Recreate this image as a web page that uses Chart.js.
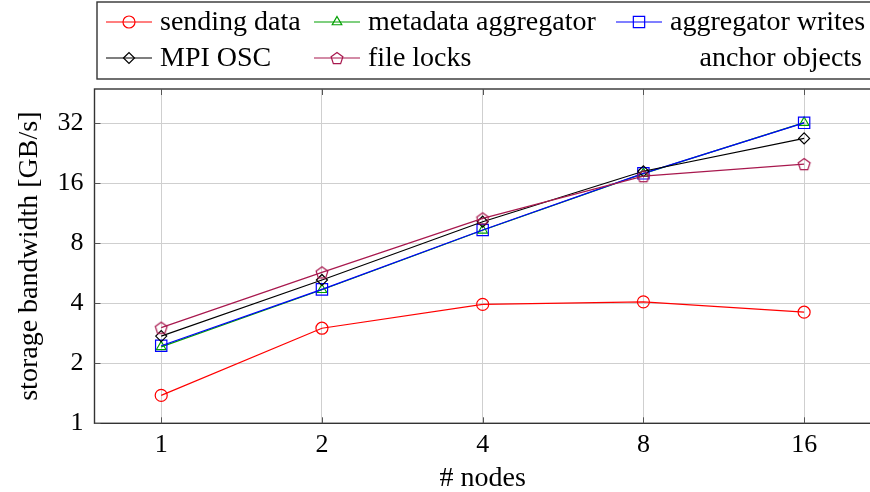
<!DOCTYPE html>
<html>
<head>
<meta charset="utf-8">
<script src="https://cdn.jsdelivr.net/npm/chart.js@4.4.1/dist/chart.umd.min.js"></script>
<style>
  html, body { margin: 0; padding: 0; background: #fff; overflow: hidden; }
  #wrap { width: 880px; height: 492px; }
  .probe { font-family: "Liberation Serif"; position: absolute; left: -999px; }
</style>
</head>
<body>
<span class="probe">probe 123</span>
<div id="wrap"><canvas id="myChart"></canvas></div>
<script>
const nodes = [1, 2, 4, 8, 16]
const xTicks = [1, 2, 4, 8, 16]
const yTicks = [1, 2, 4, 8, 16, 32]

const sendingData = [1.38, 3.0, 3.95, 4.07, 3.61]
const metadataAggregator = [2.42, 4.68, 9.3, 17.9, 32.3]
const aggregatorWrites = [2.45, 4.7, 9.33, 17.96, 32.2]
const mpiOsc = [2.74, 5.24, 10.27, 18.4, 26.9]
const fileLocks = [3.02, 5.72, 10.68, 17.4, 20.0]
const anchorObjects = []

const FONT = '"Liberation Serif", "Times New Roman", serif'
const PURPLE = '#a8184e'

function pentagon (color) {
  const c = document.createElement('canvas')
  c.width = 16
  c.height = 16
  const g = c.getContext('2d')
  g.strokeStyle = color
  g.lineWidth = 1.2
  g.beginPath()
  for (let k = 0; k < 5; k++) {
    const a = -Math.PI / 2 + k * 2 * Math.PI / 5
    const px = 8 + 6.2 * Math.cos(a)
    const py = 8.6 + 6.2 * Math.sin(a)
    if (k) g.lineTo(px, py)
    else g.moveTo(px, py)
  }
  g.closePath()
  g.stroke()
  return c
}

const pts = arr => nodes.map((n, i) => ({ x: n, y: arr[i] }))

const series = [
  { label: 'sending data', data: sendingData, color: '#ff0000', style: 'circle', r: 6 },
  { label: 'metadata aggregator', data: metadataAggregator, color: '#00a000', style: 'triangle', r: 5.5 },
  { label: 'aggregator writes', data: aggregatorWrites, color: '#0000ff', style: 'rect', r: 8 },
  { label: 'MPI OSC', data: mpiOsc, color: '#000000', style: 'rectRot', r: 5.5 },
  { label: 'file locks', data: fileLocks, color: PURPLE, style: pentagon(PURPLE), r: 6 },
  { label: 'anchor objects', data: anchorObjects, color: 'rgba(0,0,0,0)', style: false, r: 0 }
]

// legend slots: [line start x, row center y, text align]
const legendSlots = [
  [106, 22, 'left'], [314, 22, 'left'], [616, 22, 'left'],
  [106, 58, 'left'], [314, 58, 'left'], [862, 58, 'right']
]

const framePlugin = {
  id: 'frame',
  afterDatasetsDraw (chart) {
    const { ctx, chartArea: a } = chart
    ctx.save()
    ctx.strokeStyle = '#333'
    ctx.lineWidth = 1.4
    ctx.strokeRect(a.left, a.top, a.right - a.left, a.bottom - a.top)
    // inner tick marks
    ctx.strokeStyle = '#555'
    ctx.lineWidth = 1
    const ys = chart.scales.y
    const xs = chart.scales.x
    yTicks.forEach(v => {
      const py = Math.round(ys.getPixelForValue(v)) + 0.5
      ctx.beginPath(); ctx.moveTo(a.left, py); ctx.lineTo(a.left + 6, py); ctx.stroke()
    })
    xTicks.forEach(v => {
      const px = Math.round(xs.getPixelForValue(v)) + 0.5
      ctx.beginPath(); ctx.moveTo(px, a.bottom); ctx.lineTo(px, a.bottom - 6); ctx.stroke()
      ctx.beginPath(); ctx.moveTo(px, a.top); ctx.lineTo(px, a.top + 6); ctx.stroke()
    })
    ctx.restore()
  }
}

const legendPlugin = {
  id: 'boxLegend',
  afterDraw (chart) {
    const { ctx } = chart
    ctx.save()
    ctx.strokeStyle = '#333'
    ctx.lineWidth = 1.4
    ctx.strokeRect(97, 2, 790, 77)
    ctx.font = '28px ' + FONT
    ctx.textBaseline = 'middle'
    series.forEach((s, i) => {
      const [x0, y, align] = legendSlots[i]
      if (s.style) {
        ctx.strokeStyle = s.color
        ctx.lineWidth = 1.2
        ctx.beginPath(); ctx.moveTo(x0, y); ctx.lineTo(x0 + 46, y); ctx.stroke()
        ctx.fillStyle = 'rgba(0,0,0,0)'
        Chart.helpers.drawPoint(ctx, { pointStyle: s.style, radius: s.r, borderWidth: 1.2, rotation: 0 }, x0 + 23, y)
      }
      ctx.fillStyle = '#000'
      ctx.textAlign = align
      ctx.fillText(s.label, align === 'left' ? x0 + 54 : x0, y + 1)
    })
    ctx.restore()
  }
}

function build () {
  const ctx = document.getElementById('myChart').getContext('2d')
  new Chart(ctx, {
    type: 'line',
    data: {
      datasets: series.map((s, i) => ({
        label: s.label,
        data: pts(s.data),
        order: series.length - i,
        borderColor: s.color,
        backgroundColor: 'rgba(0,0,0,0)',
        borderWidth: 1.2,
        pointStyle: s.style,
        pointRadius: s.r,
        pointHoverRadius: s.r,
        pointBorderWidth: 1.2,
        pointBorderColor: s.color,
        pointBackgroundColor: 'rgba(0,0,0,0)',
        tension: 0
      }))
    },
    options: {
      responsive: true,
      maintainAspectRatio: false,
      animation: false,
      layout: { padding: { top: 89, right: 6, bottom: 0, left: 0 } },
      plugins: { legend: { display: false }, tooltip: { enabled: false } },
      scales: {
        x: {
          type: 'logarithmic',
          min: 0.75,
          max: 21.33,
          afterBuildTicks: scale => { scale.ticks = xTicks.map(v => ({ value: v })) },
          afterFit: scale => { scale.height = 68.7 },
          ticks: {
            color: '#000',
            font: { family: FONT, size: 26 },
            padding: 6,
            callback: v => String(v),
            maxRotation: 0
          },
          grid: { color: '#cfcfcf', lineWidth: 1, drawTicks: false },
          border: { display: false },
          title: { display: true, text: '# nodes', color: '#000', font: { family: FONT, size: 28 }, padding: { top: 0, bottom: -3.5 } }
        },
        y: {
          type: 'logarithmic',
          min: 1,
          max: 47.6,
          afterBuildTicks: scale => { scale.ticks = yTicks.map(v => ({ value: v })) },
          afterFit: scale => { scale.width = 94.5 },
          ticks: {
            color: '#000',
            font: { family: FONT, size: 26 },
            padding: 11,
            callback: v => String(v)
          },
          grid: { color: '#cfcfcf', lineWidth: 1, drawTicks: false },
          border: { display: false },
          title: { display: true, text: 'storage bandwidth [GB/s]', color: '#000', font: { family: FONT, size: 28 }, padding: { top: 13, bottom: 0 } }
        }
      }
    },
    plugins: [framePlugin, legendPlugin]
  })
}

Promise.all([
  document.fonts.load('27px "Liberation Serif"', '0123 abc'),
  document.fonts.ready
]).then(build, build)
</script>
</body>
</html>
